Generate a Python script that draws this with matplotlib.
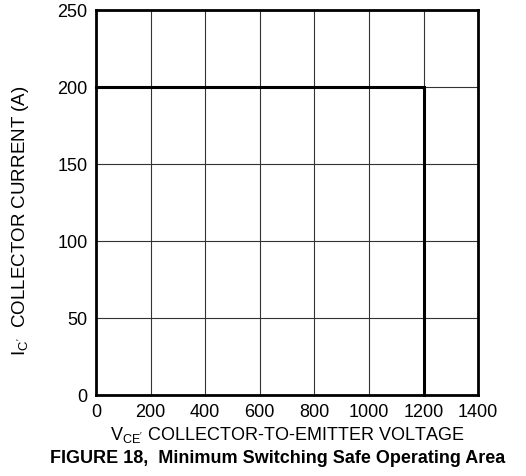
import matplotlib
matplotlib.use("Agg")
import matplotlib.pyplot as plt

plt.rcParams['font.family'] = ['Liberation Sans', 'DejaVu Sans']
plt.rcParams['mathtext.fontset'] = 'custom'
plt.rcParams['mathtext.rm'] = 'Liberation Sans'

# safe operating area boundary
vce = [0, 1200, 1200]
ic = [200, 200, 0]

x_ticks = [0, 200, 400, 600, 800, 1000, 1200, 1400]
y_ticks = [0, 50, 100, 150, 200, 250]

fig = plt.figure(figsize=(5.26, 4.77), dpi=100)
ax = fig.add_axes([0.1825, 0.170, 0.7265, 0.807])

ax.plot(vce, ic, color="black", linewidth=2.2, solid_joinstyle="miter", clip_on=False)
ax.set_xlim(0, 1400)
ax.set_ylim(0, 250)
ax.set_xticks(x_ticks)
ax.set_yticks(y_ticks)
ax.grid(True, color="#333333", linewidth=0.8)
ax.tick_params(length=0, labelsize=13, pad=6)
for s in ax.spines.values():
    s.set_linewidth(2)

ax.set_xlabel(r"V$_{\mathregular{CE'}}$ COLLECTOR-TO-EMITTER VOLTAGE", fontsize=13, labelpad=3)
ax.set_ylabel(r"I$_{\mathregular{C'}}$  COLLECTOR CURRENT (A)", fontsize=13.5)
ax.yaxis.set_label_coords(-0.17, 0.455)

fig.text(0.528, 0.020, "FIGURE 18,  Minimum Switching Safe Operating Area",
         ha="center", va="bottom", fontsize=13, fontweight="bold")

fig.savefig("out.png", dpi=100)
